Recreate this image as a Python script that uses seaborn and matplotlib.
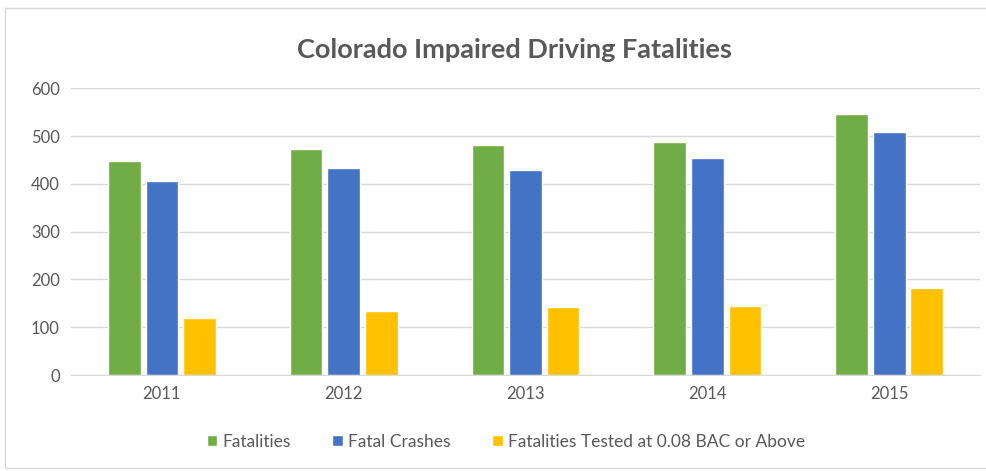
import pandas as pd
import matplotlib.pyplot as plt
import seaborn as sns
from matplotlib.patches import Rectangle

years = ['2011', '2012', '2013', '2014', '2015']
fatalities = [447, 472, 481, 487, 546]
fatal_crashes = [407, 433, 429, 454, 508]
bac_tested = [119, 133, 142, 144, 182]
series_names = ['Fatalities', 'Fatal Crashes', 'Fatalities Tested at 0.08 BAC or Above']

df = pd.DataFrame({
    'Year': years * 3,
    'Value': fatalities + fatal_crashes + bac_tested,
    'Series': [series_names[0]] * 5 + [series_names[1]] * 5 + [series_names[2]] * 5,
})

colors = ['#70AD47', '#4472C4', '#FFC000']
text_color = '#595959'

sns.set_style('white')
plt.rcParams['font.family'] = ['Lato', 'DejaVu Sans']

fig = plt.figure(figsize=(9.86, 4.71), dpi=100)
ax = fig.add_axes([0.072, 0.2038, 0.922, 0.6087])

sns.barplot(data=df, x='Year', y='Value', hue='Series', palette=colors,
            width=0.62, gap=0.13, saturation=1, ax=ax, legend=True)

ax.set_ylim(0, 600)
ax.set_xlim(-0.5, 4.5)
ax.set_yticks(range(0, 601, 100))
ax.yaxis.grid(True, color='#D9D9D9', linewidth=1)
ax.set_axisbelow(True)
ax.set_xlabel('')
ax.set_ylabel('')
for side in ['top', 'right', 'left']:
    ax.spines[side].set_visible(False)
ax.spines['bottom'].set_color('#D9D9D9')
ax.tick_params(axis='both', length=0, labelsize=12, colors=text_color, pad=8)

ax.legend_.remove()
handles, labels = ax.get_legend_handles_labels()
fig.legend(handles, labels, loc='center', bbox_to_anchor=(0.513, 0.062), ncol=3,
           frameon=False, fontsize=12.5, labelcolor=text_color,
           handlelength=0.6, handleheight=0.6, handletextpad=0.3, columnspacing=2.4)

fig.suptitle('Colorado Impaired Driving Fatalities', x=0.522, y=0.92,
             fontsize=19.5, fontweight='bold', color=text_color)

fig.patches.append(Rectangle((5 / 986, 3 / 471), 1.1, 460 / 471, transform=fig.transFigure,
                             fill=False, edgecolor='#D9D9D9', linewidth=1))

plt.savefig('out.png', dpi=100)
